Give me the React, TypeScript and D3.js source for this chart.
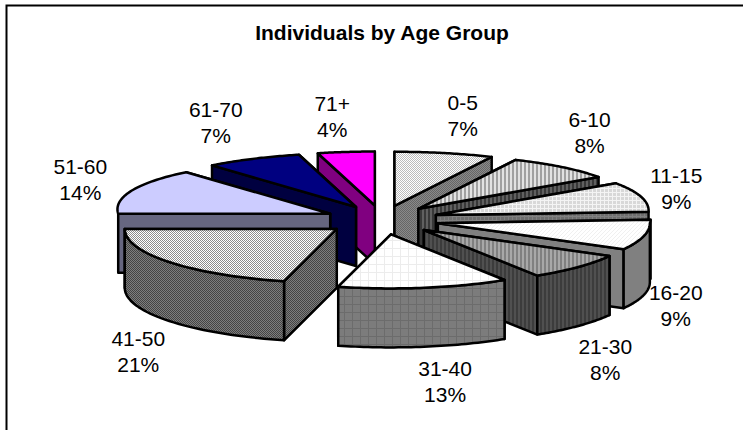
import * as d3 from "d3";

const ageGroups = ["0-5", "6-10", "11-15", "16-20", "21-30", "31-40", "41-50", "51-60", "61-70", "71+"];
const shares = [7, 8, 9, 9, 8, 13, 21, 14, 7, 4];

const width = 743;
const height = 430;
const cx = 382;
const cy = 220;
const rx = 212;
const ry = 54;
const explode = 0.27; // each slice pulled out by this part of the radius
const depth = 59;
const backWiden = 0.085; // the far half of the pie is drawn a bit wider

// label centre, relative to the rim point at the middle of the slice
const labelNudge = [[22, -39], [36, -36], [41, -10], [31, 69], [27, 91], [21, 92], [-31, 88], [-58, -13], [-44, -38], [-16, -37]];

type Fill = { kind: string; size: number; a: string; b: string };

const fill = (kind: string, size: number, a: string, b: string): Fill => ({ kind, size, a, b });

const topFills: Fill[] = [
  fill("checker", 2, "#ffffff", "#bcbcbc"),
  fill("vstripe", 4, "#e2e2e2", "#a0a0a0"),
  fill("grid", 4, "#d8d8d8", "#f4f4f4"),
  fill("diag", 4, "#ffffff", "#f0f0f0"),
  fill("vstripe", 4, "#a8a8a8", "#808080"),
  fill("grid", 8, "#ffffff", "#ececec"),
  fill("checker", 2, "#ffffff", "#8c8c8c"),
  fill("solid", 4, "#ccccff", "#ccccff"),
  fill("solid", 4, "#000080", "#000080"),
  fill("solid", 4, "#ff00ff", "#ff00ff"),
];

const sideFills: Fill[] = [
  fill("checker", 2, "#8a8a8a", "#666666"),
  fill("vstripe", 4, "#606060", "#383838"),
  fill("grid", 4, "#6e6e6e", "#808080"),
  fill("solid", 4, "#808080", "#808080"),
  fill("vstripe", 4, "#505050", "#3c3c3c"),
  fill("grid", 8, "#7c7c7c", "#6c6c6c"),
  fill("checker", 2, "#7e7e7e", "#444444"),
  fill("solid", 4, "#666680", "#666680"),
  fill("solid", 4, "#000040", "#000040"),
  fill("solid", 4, "#800080", "#800080"),
];

const PatternDef = ({ id, f }: { id: string; f: Fill }) => {
  const s = f.size;
  return (
    <pattern id={id} width={s} height={s} patternUnits="userSpaceOnUse">
      <rect width={s} height={s} fill={f.a} />
      {f.kind === "checker" && <path d={`M0 0h${s / 2}v${s / 2}h-${s / 2}zM${s / 2} ${s / 2}h${s / 2}v${s / 2}h-${s / 2}z`} fill={f.b} />}
      {f.kind === "vstripe" && <rect width={s / 2} height={s} fill={f.b} />}
      {f.kind === "grid" && <path d={`M0 0h${s}v1h-${s}zM0 0h1v${s}h-1z`} fill={f.b} />}
      {f.kind === "diag" && <path d={`M0 ${s}L${s} 0`} stroke={f.b} strokeWidth={1} />}
    </pattern>
  );
};

const line = d3.line();

export default function App() {
  const arcs = d3.pie<number>().sort(null)(shares);

  const slices = arcs.map((d, i) => {
    const mid = (d.startAngle + d.endAngle) / 2;
    const ax = cx + explode * rx * Math.sin(mid);
    const ay = cy - explode * ry * Math.cos(mid);
    const rim = (t: number): [number, number] => {
      const widen = 1 + backWiden * Math.max(Math.cos(t), 0);
      return [ax + rx * widen * Math.sin(t), ay - ry * Math.cos(t)];
    };
    const sweep = (from: number, to: number) =>
      d3.range(0, 41).map((k) => rim(from + ((to - from) * k) / 40));

    const apex: [number, number] = [ax, ay];
    const drop = ([x, y]: [number, number]): [number, number] => [x, y + depth];

    const top = line([apex, ...sweep(d.startAngle, d.endAngle)]) + "Z";
    const wall = (p: [number, number]) => line([apex, p, drop(p), drop(apex)]) + "Z";

    // the outer wall only shows on the front half of the ellipse
    const a0 = Math.max(d.startAngle, Math.PI / 2);
    const a1 = Math.min(d.endAngle, (3 * Math.PI) / 2);
    let outer = "";
    if (a1 > a0) {
      const edge = sweep(a0, a1);
      outer = line([...edge, ...edge.map(drop).reverse()]) + "Z";
    }

    const p0 = rim(d.startAngle);
    const p1 = rim(d.endAngle);
    const walls = [{ y: p0[1], d: wall(p0) }, { y: p1[1], d: wall(p1) }].sort((p, q) => p.y - q.y);

    const rimX = cx + (1 + explode) * rx * Math.sin(mid);
    const rimY = cy - (1 + explode) * ry * Math.cos(mid);

    return {
      i,
      mid,
      top,
      walls,
      outer,
      lx: rimX + labelNudge[i][0],
      ly: rimY + labelNudge[i][1],
    };
  });

  // paint from the back of the pie to the front
  const ordered = d3.sort(slices, (s) => -Math.cos(s.mid));

  return (
    <svg width={width} height={height} style={{ position: "absolute", left: 0, top: 0, display: "block" }} fontFamily="'Liberation Sans', Arial, sans-serif">
      <defs>
        {topFills.map((f, i) => <PatternDef key={i} id={`top${i}`} f={f} />)}
        {sideFills.map((f, i) => <PatternDef key={i} id={`side${i}`} f={f} />)}
      </defs>
      <rect width={width} height={height} fill="#fff" />
      <path d={`M6.5 ${height}V5.5H${width}`} fill="none" stroke="#000" strokeWidth={2} />

      <text x={382} y={40} textAnchor="middle" fontSize={21} fontWeight="bold">Individuals by Age Group</text>

      {ordered.map((s) => (
        <g key={s.i} stroke="#000" strokeWidth={2.5} strokeLinejoin="round">
          {s.walls.map((w, j) => <path key={j} d={w.d} fill={`url(#side${s.i})`} />)}
          {s.outer && <path d={s.outer} fill={`url(#side${s.i})`} />}
          <path d={s.top} fill={`url(#top${s.i})`} />
        </g>
      ))}

      {slices.map((s) => (
        <text key={s.i} textAnchor="middle" fontSize={21} fill="#000">
          <tspan x={s.lx} y={s.ly - 4}>{ageGroups[s.i]}</tspan>
          <tspan x={s.lx} y={s.ly + 22}>{shares[s.i]}%</tspan>
        </text>
      ))}
    </svg>
  );
}
